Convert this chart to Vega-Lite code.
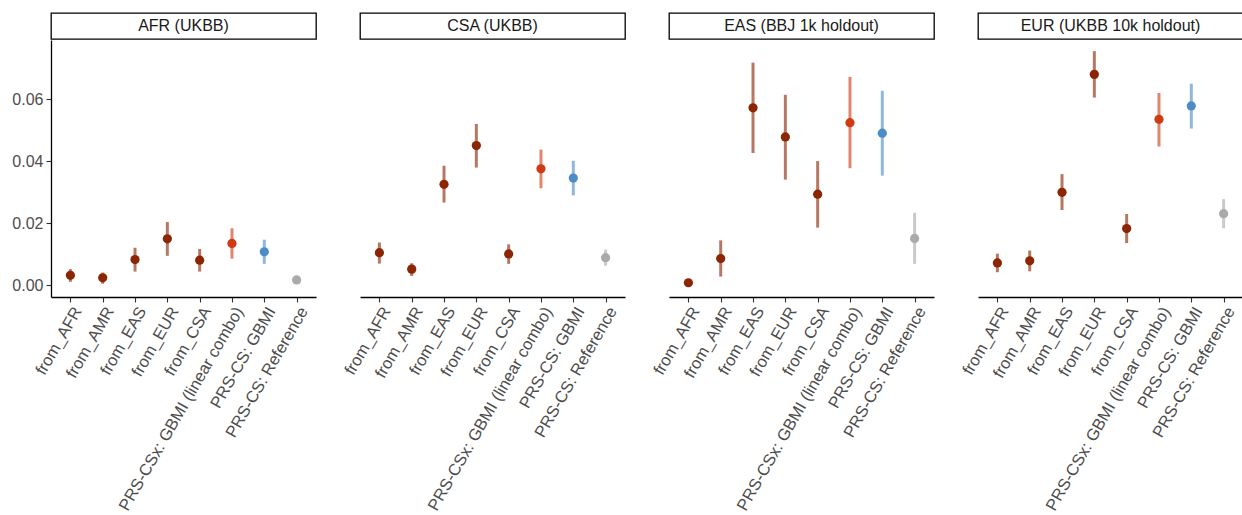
{
  "$schema": "https://vega.github.io/schema/vega-lite/v6.json",
  "padding": {"left": 11, "top": 12, "right": 0, "bottom": 0},
  "background": "white",
  "config": {
    "font": "Liberation Sans",
    "view": {"stroke": null},
    "axis": {"grid": false, "domainColor": "#000000", "domainWidth": 1.3, "tickColor": "#333333", "tickWidth": 1.1, "tickSize": 5, "labelColor": "#4D4D4D", "labelFontSize": 16, "labelFont": "Liberation Sans", "title": null},
    "axisX": {"labelFontSize": 16.5, "labelAngle": -60, "labelAlign": "right", "labelBaseline": "top", "labelPadding": 2, "labelLimit": 400}
  },
  "datasets": {
    "strips": [
      {"panel": "AFR (UKBB)"},
      {"panel": "CSA (UKBB)"},
      {"panel": "EAS (BBJ 1k holdout)"},
      {"panel": "EUR (UKBB 10k holdout)"}
    ],
    "pts": [
      {"panel": "AFR (UKBB)", "method": "from_AFR", "grp": "from", "r2": 0.0032, "lo": 0.0011, "hi": 0.0052},
      {"panel": "AFR (UKBB)", "method": "from_AMR", "grp": "from", "r2": 0.0024, "lo": 0.0005, "hi": 0.0041},
      {"panel": "AFR (UKBB)", "method": "from_EAS", "grp": "from", "r2": 0.0083, "lo": 0.0044, "hi": 0.0121},
      {"panel": "AFR (UKBB)", "method": "from_EUR", "grp": "from", "r2": 0.0150, "lo": 0.0095, "hi": 0.0204},
      {"panel": "AFR (UKBB)", "method": "from_CSA", "grp": "from", "r2": 0.0081, "lo": 0.0044, "hi": 0.0117},
      {"panel": "AFR (UKBB)", "method": "PRS-CSx: GBMI (linear combo)", "grp": "combo", "r2": 0.0135, "lo": 0.0086, "hi": 0.0184},
      {"panel": "AFR (UKBB)", "method": "PRS-CS: GBMI", "grp": "gbmi", "r2": 0.0108, "lo": 0.0069, "hi": 0.0147},
      {"panel": "AFR (UKBB)", "method": "PRS-CS: Reference", "grp": "ref", "r2": 0.0017, "lo": 0.0012, "hi": 0.0022},
      {"panel": "CSA (UKBB)", "method": "from_AFR", "grp": "from", "r2": 0.0105, "lo": 0.0070, "hi": 0.0138},
      {"panel": "CSA (UKBB)", "method": "from_AMR", "grp": "from", "r2": 0.0052, "lo": 0.0030, "hi": 0.0071},
      {"panel": "CSA (UKBB)", "method": "from_EAS", "grp": "from", "r2": 0.0326, "lo": 0.0267, "hi": 0.0386},
      {"panel": "CSA (UKBB)", "method": "from_EUR", "grp": "from", "r2": 0.0451, "lo": 0.0380, "hi": 0.0521},
      {"panel": "CSA (UKBB)", "method": "from_CSA", "grp": "from", "r2": 0.0101, "lo": 0.0069, "hi": 0.0132},
      {"panel": "CSA (UKBB)", "method": "PRS-CSx: GBMI (linear combo)", "grp": "combo", "r2": 0.0376, "lo": 0.0313, "hi": 0.0438},
      {"panel": "CSA (UKBB)", "method": "PRS-CS: GBMI", "grp": "gbmi", "r2": 0.0346, "lo": 0.0290, "hi": 0.0402},
      {"panel": "CSA (UKBB)", "method": "PRS-CS: Reference", "grp": "ref", "r2": 0.0089, "lo": 0.0063, "hi": 0.0115},
      {"panel": "EAS (BBJ 1k holdout)", "method": "from_AFR", "grp": "from", "r2": 0.0008, "lo": 0.0005, "hi": 0.0012},
      {"panel": "EAS (BBJ 1k holdout)", "method": "from_AMR", "grp": "from", "r2": 0.0086, "lo": 0.0028, "hi": 0.0145},
      {"panel": "EAS (BBJ 1k holdout)", "method": "from_EAS", "grp": "from", "r2": 0.0573, "lo": 0.0427, "hi": 0.0719},
      {"panel": "EAS (BBJ 1k holdout)", "method": "from_EUR", "grp": "from", "r2": 0.0479, "lo": 0.0341, "hi": 0.0615},
      {"panel": "EAS (BBJ 1k holdout)", "method": "from_CSA", "grp": "from", "r2": 0.0294, "lo": 0.0186, "hi": 0.0401},
      {"panel": "EAS (BBJ 1k holdout)", "method": "PRS-CSx: GBMI (linear combo)", "grp": "combo", "r2": 0.0525, "lo": 0.0378, "hi": 0.0673},
      {"panel": "EAS (BBJ 1k holdout)", "method": "PRS-CS: GBMI", "grp": "gbmi", "r2": 0.0491, "lo": 0.0354, "hi": 0.0628},
      {"panel": "EAS (BBJ 1k holdout)", "method": "PRS-CS: Reference", "grp": "ref", "r2": 0.0151, "lo": 0.0069, "hi": 0.0234},
      {"panel": "EUR (UKBB 10k holdout)", "method": "from_AFR", "grp": "from", "r2": 0.0072, "lo": 0.0042, "hi": 0.0102},
      {"panel": "EUR (UKBB 10k holdout)", "method": "from_AMR", "grp": "from", "r2": 0.0079, "lo": 0.0045, "hi": 0.0112},
      {"panel": "EUR (UKBB 10k holdout)", "method": "from_EAS", "grp": "from", "r2": 0.0300, "lo": 0.0243, "hi": 0.0359},
      {"panel": "EUR (UKBB 10k holdout)", "method": "from_EUR", "grp": "from", "r2": 0.0681, "lo": 0.0606, "hi": 0.0756},
      {"panel": "EUR (UKBB 10k holdout)", "method": "from_CSA", "grp": "from", "r2": 0.0183, "lo": 0.0136, "hi": 0.0230},
      {"panel": "EUR (UKBB 10k holdout)", "method": "PRS-CSx: GBMI (linear combo)", "grp": "combo", "r2": 0.0536, "lo": 0.0448, "hi": 0.0621},
      {"panel": "EUR (UKBB 10k holdout)", "method": "PRS-CS: GBMI", "grp": "gbmi", "r2": 0.0579, "lo": 0.0506, "hi": 0.0651},
      {"panel": "EUR (UKBB 10k holdout)", "method": "PRS-CS: Reference", "grp": "ref", "r2": 0.0231, "lo": 0.0184, "hi": 0.0278}
    ]
  },
  "spacing": 24,
  "hconcat": [
    {
      "bounds": "flush", "spacing": 1,
      "vconcat": [
        {"width": 265, "height": 26, "view": {"stroke": "#000000", "strokeWidth": 1.3},
         "data": {"name": "strips"}, "transform": [{"filter": "datum.panel === 'AFR (UKBB)'"}],
         "mark": {"type": "text", "fontSize": 16, "color": "#1A1A1A", "align": "center", "baseline": "middle"},
         "encoding": {"text": {"field": "panel"}}},
        {"width": 265, "height": 257,
         "data": {"name": "pts"}, "transform": [{"filter": "datum.panel === 'AFR (UKBB)'"}],
         "encoding": {
           "x": {"field": "method", "type": "nominal", "sort": ["from_AFR","from_AMR","from_EAS","from_EUR","from_CSA","PRS-CSx: GBMI (linear combo)","PRS-CS: GBMI","PRS-CS: Reference"], "scale": {"type": "point", "padding": 0.6}},
           "color": {"field": "grp", "type": "nominal", "scale": {"domain": ["from","combo","gbmi","ref"], "range": ["#8B2504","#CF3A14","#4C8DC8","#AAAAAA"]}, "legend": null}
         },
         "layer": [
           {"mark": {"type": "rule", "strokeWidth": 3, "opacity": 0.62},
            "encoding": {"y": {"field": "lo", "type": "quantitative", "scale": {"domain": [-0.0038, 0.0792], "nice": false, "zero": false}, "axis": {"values": [0, 0.02, 0.04, 0.06], "format": ".2f", "labelPadding": 3}}, "y2": {"field": "hi"}}},
           {"mark": {"type": "point", "filled": true, "size": 85, "opacity": 1},
            "encoding": {"y": {"field": "r2", "type": "quantitative"}}}
         ]}
      ]
    },
    {
      "bounds": "flush", "spacing": 1,
      "vconcat": [
        {"width": 265, "height": 26, "view": {"stroke": "#000000", "strokeWidth": 1.3},
         "data": {"name": "strips"}, "transform": [{"filter": "datum.panel === 'CSA (UKBB)'"}],
         "mark": {"type": "text", "fontSize": 16, "color": "#1A1A1A", "align": "center", "baseline": "middle"},
         "encoding": {"text": {"field": "panel"}}},
        {"width": 265, "height": 257,
         "data": {"name": "pts"}, "transform": [{"filter": "datum.panel === 'CSA (UKBB)'"}],
         "encoding": {
           "x": {"field": "method", "type": "nominal", "sort": ["from_AFR","from_AMR","from_EAS","from_EUR","from_CSA","PRS-CSx: GBMI (linear combo)","PRS-CS: GBMI","PRS-CS: Reference"], "scale": {"type": "point", "padding": 0.6}},
           "color": {"field": "grp", "type": "nominal", "scale": {"domain": ["from","combo","gbmi","ref"], "range": ["#8B2504","#CF3A14","#4C8DC8","#AAAAAA"]}, "legend": null}
         },
         "layer": [
           {"mark": {"type": "rule", "strokeWidth": 3, "opacity": 0.62},
            "encoding": {"y": {"field": "lo", "type": "quantitative", "scale": {"domain": [-0.0038, 0.0792], "nice": false, "zero": false}, "axis": null}, "y2": {"field": "hi"}}},
           {"mark": {"type": "point", "filled": true, "size": 85, "opacity": 1},
            "encoding": {"y": {"field": "r2", "type": "quantitative"}}}
         ]}
      ]
    },
    {
      "bounds": "flush", "spacing": 1,
      "vconcat": [
        {"width": 265, "height": 26, "view": {"stroke": "#000000", "strokeWidth": 1.3},
         "data": {"name": "strips"}, "transform": [{"filter": "datum.panel === 'EAS (BBJ 1k holdout)'"}],
         "mark": {"type": "text", "fontSize": 16, "color": "#1A1A1A", "align": "center", "baseline": "middle"},
         "encoding": {"text": {"field": "panel"}}},
        {"width": 265, "height": 257,
         "data": {"name": "pts"}, "transform": [{"filter": "datum.panel === 'EAS (BBJ 1k holdout)'"}],
         "encoding": {
           "x": {"field": "method", "type": "nominal", "sort": ["from_AFR","from_AMR","from_EAS","from_EUR","from_CSA","PRS-CSx: GBMI (linear combo)","PRS-CS: GBMI","PRS-CS: Reference"], "scale": {"type": "point", "padding": 0.6}},
           "color": {"field": "grp", "type": "nominal", "scale": {"domain": ["from","combo","gbmi","ref"], "range": ["#8B2504","#CF3A14","#4C8DC8","#AAAAAA"]}, "legend": null}
         },
         "layer": [
           {"mark": {"type": "rule", "strokeWidth": 3, "opacity": 0.62},
            "encoding": {"y": {"field": "lo", "type": "quantitative", "scale": {"domain": [-0.0038, 0.0792], "nice": false, "zero": false}, "axis": null}, "y2": {"field": "hi"}}},
           {"mark": {"type": "point", "filled": true, "size": 85, "opacity": 1},
            "encoding": {"y": {"field": "r2", "type": "quantitative"}}}
         ]}
      ]
    },
    {
      "bounds": "flush", "spacing": 1,
      "vconcat": [
        {"width": 265, "height": 26, "view": {"stroke": "#000000", "strokeWidth": 1.3},
         "data": {"name": "strips"}, "transform": [{"filter": "datum.panel === 'EUR (UKBB 10k holdout)'"}],
         "mark": {"type": "text", "fontSize": 16, "color": "#1A1A1A", "align": "center", "baseline": "middle"},
         "encoding": {"text": {"field": "panel"}}},
        {"width": 265, "height": 257,
         "data": {"name": "pts"}, "transform": [{"filter": "datum.panel === 'EUR (UKBB 10k holdout)'"}],
         "encoding": {
           "x": {"field": "method", "type": "nominal", "sort": ["from_AFR","from_AMR","from_EAS","from_EUR","from_CSA","PRS-CSx: GBMI (linear combo)","PRS-CS: GBMI","PRS-CS: Reference"], "scale": {"type": "point", "padding": 0.6}},
           "color": {"field": "grp", "type": "nominal", "scale": {"domain": ["from","combo","gbmi","ref"], "range": ["#8B2504","#CF3A14","#4C8DC8","#AAAAAA"]}, "legend": null}
         },
         "layer": [
           {"mark": {"type": "rule", "strokeWidth": 3, "opacity": 0.62},
            "encoding": {"y": {"field": "lo", "type": "quantitative", "scale": {"domain": [-0.0038, 0.0792], "nice": false, "zero": false}, "axis": null}, "y2": {"field": "hi"}}},
           {"mark": {"type": "point", "filled": true, "size": 85, "opacity": 1},
            "encoding": {"y": {"field": "r2", "type": "quantitative"}}}
         ]}
      ]
    }
  ]
}
